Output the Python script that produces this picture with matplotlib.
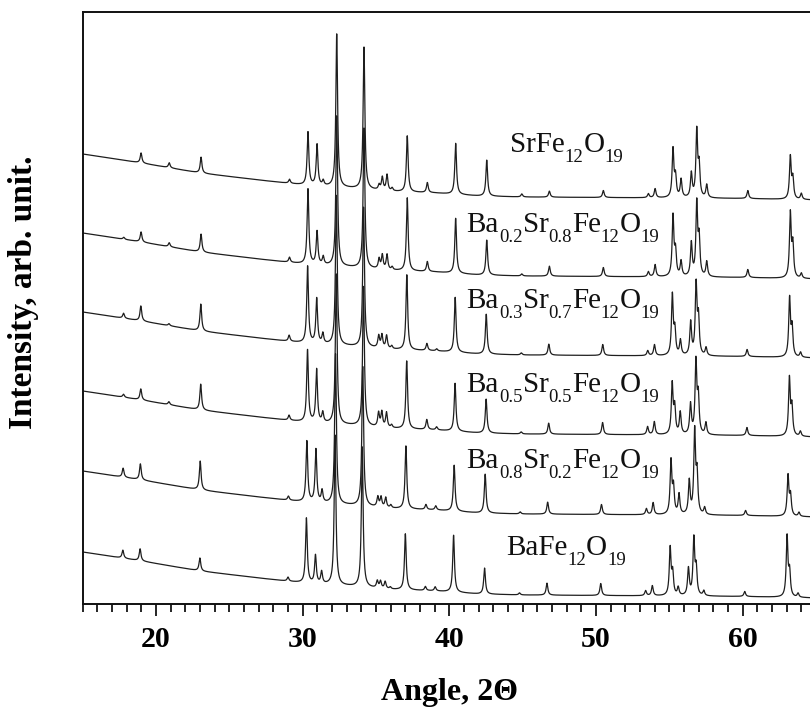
import re
import numpy as np
import matplotlib
matplotlib.use("Agg")
import matplotlib.pyplot as plt
from matplotlib.ticker import MultipleLocator

plt.rcParams["font.family"] = ["Liberation Serif", "DejaVu Serif"]

# ---- data -------------------------------------------------------------
# chemical formulas, subscripts in braces
sample_labels = [
    "SrFe{12}O{19}",
    "Ba{0.2}Sr{0.8}Fe{12}O{19}",
    "Ba{0.3}Sr{0.7}Fe{12}O{19}",
    "Ba{0.5}Sr{0.5}Fe{12}O{19}",
    "Ba{0.8}Sr{0.2}Fe{12}O{19}",
    "BaFe{12}O{19}",
]

# reflection positions of SrFe12O19 (2theta, deg)
peak_pos = [17.8, 18.98, 20.9, 23.07, 29.1, 30.36, 30.98, 31.4, 32.32, 34.18,
            35.21, 35.43, 35.75, 36.1, 37.13, 38.5, 39.17, 40.43, 42.55, 44.94,
            46.82, 50.5, 53.57, 54.03, 55.25, 55.42, 55.8, 56.5, 56.87, 57.03,
            57.55, 60.35, 63.25, 63.42, 64.0]

# peak heights for each composition (arb. units)
h_sr   = [0, 10, 5, 16, 4, 53, 41, 5, 153, 142, 5, 13, 16, 3, 56, 10, 0, 51, 36, 3,
          6, 7, 4, 9, 48, 20, 18, 24, 66, 30, 13, 8, 42, 20, 6]
h_ba02 = [2, 10, 4, 18, 5, 75, 33, 8, 150, 140, 10, 14, 15, 3, 73, 10, 0, 55, 35, 2,
          10, 9, 5, 12, 60, 24, 15, 33, 72, 36, 15, 8, 64, 32, 5]
h_ba03 = [5, 15, 2, 27, 6, 77, 45, 10, 150, 140, 12, 13, 13, 3, 75, 7, 2, 55, 40, 2,
          11, 11, 5, 11, 60, 24, 15, 33, 70, 36, 8, 7, 58, 28, 5]
h_ba05 = [3, 11, 3, 26, 5, 72, 53, 10, 150, 140, 14, 15, 15, 3, 68, 10, 3, 48, 34, 2,
          11, 12, 8, 13, 50, 26, 22, 30, 72, 36, 12, 8, 57, 28, 5]
h_ba08 = [9, 16, 0, 29, 4, 61, 53, 12, 150, 140, 10, 10, 10, 3, 63, 5, 4, 46, 39, 2,
          12, 10, 6, 12, 53, 26, 20, 33, 82, 38, 7, 5, 40, 20, 4]
h_ba10 = [8, 12, 0, 13, 4, 65, 28, 12, 150, 140, 7, 7, 7, 2, 56, 4, 4, 57, 26, 2,
          12, 12, 5, 10, 47, 22, 8, 27, 56, 26, 5, 5, 60, 24, 4]
heights = [h_sr, h_ba02, h_ba03, h_ba05, h_ba08, h_ba10]

# Ba substitution expands the lattice: reflections move to lower angles
pos_scale = [1.0, 1.0, 0.9992, 0.9990, 0.9975, 0.9965]

# amorphous / fluorescence background along the pattern
bg_angle = [15, 19, 23, 27, 30, 33, 36, 39, 42, 45, 50, 55, 60, 65]
bg_level = [46, 37, 27, 20, 15, 12, 8.5, 7, 4, 3, 2.5, 2, 1.5, 0]

# vertical stacking of the patterns
offsets = [404, 325, 246, 167, 87, 6]

# label anchors (2theta, intensity)
label_x = [44.14, 41.18, 41.18, 41.18, 41.18, 43.87]
label_y = [452.3, 372.3, 296.0, 212.3, 135.7, 49.0]

# ---- figure -----------------------------------------------------------
DPI = 100
fig = plt.figure(figsize=(8.10, 7.08), dpi=DPI)
ax = fig.add_axes([82.7 / 810, 104 / 708, (816 - 82.7) / 810, 592 / 708])

theta = np.arange(15.0, 65.0001, 0.01)
hwhm = 0.07
background = np.interp(theta, bg_angle, bg_level)

for k in range(len(offsets) - 1, -1, -1):
    y = offsets[k] + background
    for p, h in zip(peak_pos, heights[k]):
        if h > 0:
            c = p * pos_scale[k]
            y = y + h / (1.0 + ((theta - c) / hwhm) ** 2)
    ax.plot(theta, y, color="#1e1e1e", lw=0.9, solid_joinstyle="round")

ax.set_xlim(15, 65)
ax.set_ylim(0, 592)
ax.set_yticks([])
ax.xaxis.set_major_locator(MultipleLocator(10))
ax.xaxis.set_minor_locator(MultipleLocator(1))
ax.tick_params(axis="x", which="major", direction="out", length=8.5, width=1.2,
               labelsize=21.5, pad=7)
ax.tick_params(axis="x", which="minor", direction="out", length=5.5, width=1.2)
for lbl in ax.get_xticklabels():
    lbl.set_fontweight("bold")
for s in ax.spines.values():
    s.set_linewidth(1.4)
    s.set_color("#111111")


def draw_formula(x, y, formula, size=21, sub_size=13.5, drop=10):
    """Write a chemical formula with lowered subscripts, starting at data (x, y)."""
    renderer = fig.canvas.get_renderer()
    W, H = fig.bbox.width, fig.bbox.height
    cx, cy = ax.transData.transform((x, y))
    for main, sub in re.findall(r"([^{]+)\{([^}]*)\}", formula):
        t = fig.text(cx / W, cy / H, main, fontsize=size, ha="left",
                     va="baseline", color="#111111")
        cx = t.get_window_extent(renderer).x1
        t = fig.text(cx / W, (cy - drop) / H, sub, fontsize=sub_size, ha="left",
                     va="baseline", color="#111111")
        cx = t.get_window_extent(renderer).x1


fig.canvas.draw()
for txt, lx, ly in zip(sample_labels, label_x, label_y):
    draw_formula(lx, ly, txt)

fig.text(450 / 810, 1 - 700 / 708, "Angle, 2\u0398", fontsize=23, fontweight="bold",
         ha="center", va="baseline")
fig.text(24 / 810, 1 - 292 / 708, "Intensity, arb. unit.", fontsize=24,
         fontweight="bold", rotation=90, ha="center", va="center")

fig.savefig("out.png", dpi=DPI)
